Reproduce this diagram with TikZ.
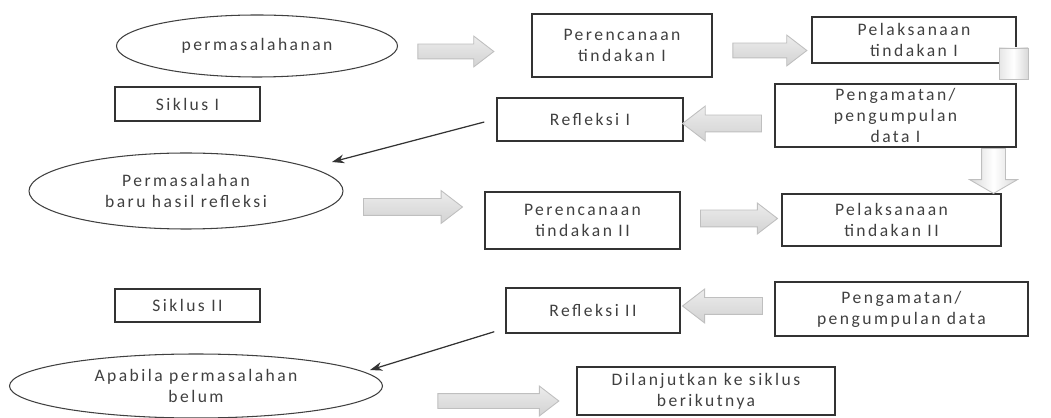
\documentclass[tikz,border=0pt]{standalone}
\usepackage{fontspec}
\setmainfont[LetterSpace=14]{Carlito}
\usetikzlibrary{shapes.geometric,shapes.arrows,arrows.meta}

\tikzset{
  kotak/.style 2 args={draw=black!80,thick,rectangle,align=center,
    minimum width=#1*0.02cm,minimum height=#2*0.02cm,inner sep=1pt},
  elips/.style 2 args={draw=black!75,line width=0.6pt,ellipse,align=center,
    minimum width=#1*0.02cm,minimum height=#2*0.02cm,inner sep=0pt},
  panah/.style 2 args={single arrow,draw=gray!50,line width=0.5pt,inner sep=0pt,
    text width=#2*0.02cm,text height=#2*0.02cm,text depth=0pt,
    minimum height=#1*0.02cm,single arrow tip angle=75,
    top color=gray!15,middle color=white,bottom color=gray!35},
  garis/.style={draw=black!80,line width=0.7pt,-{Stealth[length=7pt,width=5pt]}}
}

\begin{document}
\begin{tikzpicture}[x=0.02cm,y=-0.02cm,font=\fontsize{10}{12}\selectfont,text=black!75]
  \useasboundingbox (0,0) rectangle (1051,418);

  % siklus I
  \node[elips={281}{62}] (masalah1) at (257,46) {permasalahanan};
  \node[kotak={180}{63}] (ren1) at (622,45.5) {Perencanaan\\tindakan I};
  \node[kotak={204}{46}] (lak1) at (914,40) {Pelaksanaan\\tindakan I};
  \node[kotak={145}{34}] (sik1) at (187.5,104) {Siklus I};
  \node[kotak={186}{43}] (ref1) at (590,119.5) {Refleksi I};
  \node[kotak={241}{63}] (amat1) at (895.5,115.5) {Pengamatan/\\pengumpulan\\data I};
  \node[draw=gray!50,inner sep=0pt,minimum width=29*0.02cm,minimum height=31*0.02cm,
    left color=gray!20,right color=gray!30,middle color=white] (sisa) at (1013.5,63.5) {};

  % siklus II
  \node[elips={314}{76}] (masalah2) at (186,191) {Permasalahan\\baru hasil refleksi};
  \node[kotak={195}{57}] (ren2) at (582.5,220.5) {Perencanaan\\tindakan II};
  \node[kotak={219}{52}] (lak2) at (891.5,220) {Pelaksanaan\\tindakan II};
  \node[kotak={145}{33}] (sik2) at (187.5,305.5) {Siklus II};
  \node[kotak={174}{45}] (ref2) at (593,310.5) {Refleksi II};
  \node[kotak={253}{54}] (amat2) at (901.5,309) {Pengamatan/\\pengumpulan data};
  \node[elips={373}{64}] (masalah3) at (196,386) {Apabila permasalahan\\belum};
  \node[kotak={258}{48}] (lanjut) at (706,391) {Dilanjutkan ke siklus\\berikutnya};

  % panah blok
  \node[panah={76}{14},single arrow head extend=8*0.02cm] (pA) at (451,51.5) {};
  \node[panah={74}{14},single arrow head extend=8*0.02cm] (pB) at (765,50.5) {};
  \node[panah={79}{16},single arrow head extend=9*0.02cm,shape border rotate=180] (pC) at (727.5,123.5) {};
  \node[panah={45}{23},single arrow head extend=12*0.02cm,shape border rotate=270,
    single arrow tip angle=120,left color=gray!30,right color=gray!30,middle color=white] (pD) at (993.5,167.5) {};
  \node[panah={99}{16},single arrow head extend=8*0.02cm] (pE) at (407.5,207) {};
  \node[panah={77}{16},single arrow head extend=7*0.02cm] (pF) at (733.5,218.5) {};
  \node[panah={80}{16},single arrow head extend=8.5*0.02cm,shape border rotate=180] (pG) at (728,306) {};
  \node[panah={121}{14},single arrow head extend=7.5*0.02cm] (pH) at (493.5,401) {};

  % panah tipis
  \coordinate (ujung1) at (332,162);
  \coordinate (ujung2) at (370,370);
  \draw[garis] ([xshift=-0.24cm,yshift=-0.05cm]ref1.west) -- (ujung1);
  \draw[garis] ([xshift=-0.22cm,yshift=0.04cm]ref2.south west) -- (ujung2);
\end{tikzpicture}
\end{document}
